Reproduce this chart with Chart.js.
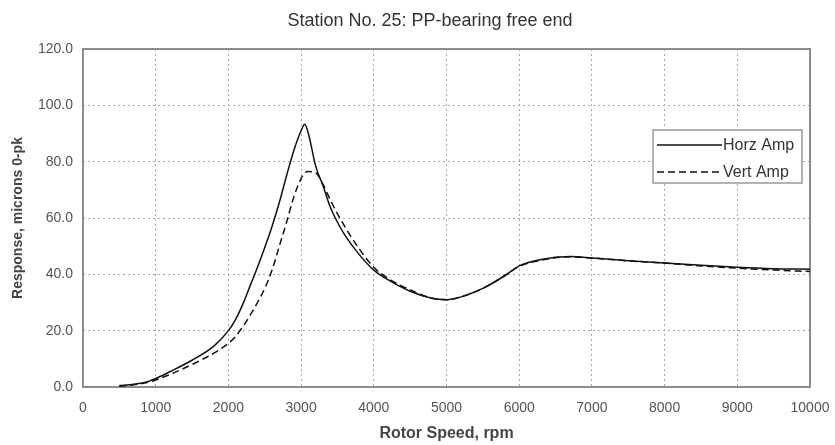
<!DOCTYPE html>
<html>
<head>
<meta charset="utf-8">
<title>Station No. 25: PP-bearing free end</title>
<script src="https://cdn.jsdelivr.net/npm/chart.js@4.4.1/dist/chart.umd.min.js"></script>
<style>
    html, body { margin: 0; padding: 0; background: #fff; }
    #responseChart { display: block; }
</style>
</head>
<body>
<canvas id="responseChart" width="835" height="445"></canvas>
<script>
// Rotor speed (rpm) and response amplitudes (microns 0-pk)
const rpm = [500, 700, 900, 1000, 1200, 1500, 1800, 2000, 2100, 2200, 2300, 2400, 2500, 2600, 2700, 2800, 2900,
    3000, 3050, 3100, 3200, 3300, 3400, 3500, 3600, 3800, 4000, 4200, 4500, 4800, 5000, 5200, 5500, 5800,
    6000, 6300, 6700, 7000, 7500, 8000, 8500, 9000, 9500, 10000];
const horzAmp = [0.5, 1.0, 2.0, 3.0, 5.5, 9.5, 14.5, 20.0, 24.0, 29.5, 36.0, 42.5, 49.5, 57.0, 65.5, 75.0, 84.0,
    91.0, 93.3, 90.0, 78.5, 71.5, 64.0, 58.5, 54.0, 47.0, 41.5, 38.0, 34.0, 31.5, 31.0, 32.0, 35.0, 39.5,
    43.0, 45.3, 46.3, 45.8, 44.8, 44.0, 43.2, 42.5, 42.0, 41.8];
const vertAmp = [0.3, 0.8, 1.7, 2.5, 4.5, 8.0, 12.0, 15.5, 18.0, 21.5, 25.5, 30.0, 35.0, 41.5, 50.0, 58.5, 67.5,
    74.0, 76.0, 76.5, 76.0, 72.0, 66.5, 61.5, 57.0, 49.0, 42.5, 38.5, 34.5, 31.5, 31.0, 32.0, 35.0, 39.5,
    42.8, 45.0, 46.2, 45.8, 44.8, 44.0, 43.0, 42.2, 41.5, 41.0];
const seriesLabels = ['Horz Amp', 'Vert Amp'];
const xTicks = [0, 1000, 2000, 3000, 4000, 5000, 6000, 7000, 8000, 9000, 10000];
const yTicks = [0, 20, 40, 60, 80, 100, 120];

const FONT = "'Liberation Sans', Arial, sans-serif";

document.addEventListener('DOMContentLoaded', () => {
    const ctx = document.getElementById('responseChart').getContext('2d');

    // frame round the plot area, drawn under the curves
    const plotFrame = {
        id: 'plotFrame',
        beforeDatasetsDraw(chart) {
            const { ctx, chartArea: a } = chart;
            ctx.save();
            ctx.strokeStyle = '#8c8c8c';
            ctx.lineWidth = 2;
            ctx.strokeRect(a.left, a.top, a.right - a.left, a.bottom - a.top);
            ctx.restore();
        }
    };

    // title sits a little left of the canvas centre in the original
    const chartTitle = {
        id: 'chartTitle',
        afterDraw(chart) {
            const c = chart.ctx;
            c.save();
            c.font = '18px ' + FONT;
            c.fillStyle = '#333';
            c.textAlign = 'center';
            c.textBaseline = 'middle';
            c.fillText('Station No. 25: PP-bearing free end', 430, 21);
            c.restore();
        }
    };

    // boxed legend inside the plot, line sample on the left, label on the right
    const boxLegend = {
        id: 'boxLegend',
        afterDatasetsDraw(chart) {
            const c = chart.ctx;
            const box = { x: 653, y: 130, w: 149, h: 53 };
            c.save();
            c.fillStyle = '#fff';
            c.fillRect(box.x, box.y, box.w, box.h);
            c.strokeStyle = '#999';
            c.lineWidth = 1.5;
            c.strokeRect(box.x, box.y, box.w, box.h);
            c.font = '16px ' + FONT;
            c.textBaseline = 'middle';
            chart.data.datasets.forEach((ds, i) => {
                const y = 145 + i * 27;
                c.strokeStyle = ds.borderColor;
                c.lineWidth = ds.borderWidth;
                c.setLineDash(ds.borderDash || []);
                c.beginPath();
                c.moveTo(657, y);
                c.lineTo(722, y);
                c.stroke();
                c.setLineDash([]);
                c.fillStyle = '#333';
                c.fillText(ds.label, 723, y + 1);
            });
            c.restore();
        }
    };

    new Chart(ctx, {
        type: 'line',
        data: {
            labels: rpm,
            datasets: [{
                label: seriesLabels[0],
                data: rpm.map((x, i) => ({ x: x, y: horzAmp[i] })),
                borderColor: '#111',
                borderWidth: 1.5,
                pointRadius: 0,
                fill: false,
                cubicInterpolationMode: 'monotone'
            }, {
                label: seriesLabels[1],
                data: rpm.map((x, i) => ({ x: x, y: vertAmp[i] })),
                borderColor: '#111',
                borderWidth: 1.5,
                borderDash: [7, 4],
                pointRadius: 0,
                fill: false,
                cubicInterpolationMode: 'monotone'
            }]
        },
        options: {
            responsive: false,
            devicePixelRatio: 1,
            animation: false,
            layout: { padding: { top: 49, right: 25, left: 0, bottom: 0 } },
            plugins: {
                legend: { display: false },
                title: { display: false },
                tooltip: { enabled: false }
            },
            scales: {
                x: {
                    type: 'linear',
                    min: 0,
                    max: 10000,
                    afterBuildTicks: scale => { scale.ticks = xTicks.map(v => ({ value: v })); },
                    afterFit: scale => {
                        scale.height = 58;
                        scale.paddingLeft = 0;
                        scale.paddingRight = 0;
                    },
                    ticks: {
                        font: { family: FONT, size: 14 },
                        color: '#555',
                        padding: 13,
                        maxRotation: 0,
                        callback: v => String(v)
                    },
                    grid: { color: '#a8a8a8', lineWidth: 1, drawTicks: false },
                    border: { display: false, dash: [2, 3] },
                    title: {
                        display: true,
                        text: 'Rotor Speed, rpm',
                        font: { family: FONT, size: 16, weight: 'bold' },
                        color: '#444',
                        padding: { top: 0, bottom: 2 }
                    }
                },
                y: {
                    min: 0,
                    max: 120,
                    afterBuildTicks: scale => { scale.ticks = yTicks.map(v => ({ value: v })); },
                    afterFit: scale => {
                        scale.width = 83;
                        scale.paddingTop = 0;
                        scale.paddingBottom = 0;
                    },
                    ticks: {
                        font: { family: FONT, size: 14 },
                        color: '#555',
                        padding: 10,
                        callback: v => v.toFixed(1)
                    },
                    grid: { color: '#a8a8a8', lineWidth: 1, drawTicks: false },
                    border: { display: false, dash: [2, 3] },
                    title: {
                        display: true,
                        text: 'Response, microns 0-pk',
                        font: { family: FONT, size: 14, weight: 'bold' },
                        color: '#444',
                        padding: { top: 10, bottom: 0 }
                    }
                }
            }
        },
        plugins: [plotFrame, chartTitle, boxLegend]
    });
});
</script>
</body>
</html>
